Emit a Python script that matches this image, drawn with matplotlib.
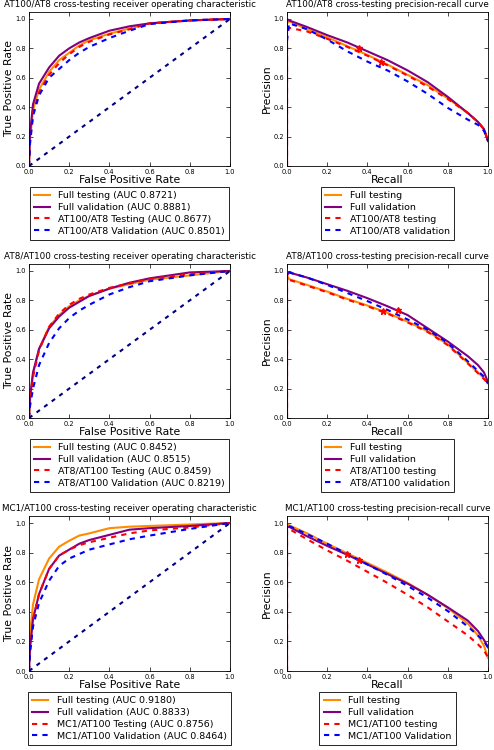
import matplotlib
matplotlib.use("Agg")
import matplotlib.pyplot as plt

# Figure size in pixels
W, H = 494, 750

# Experiment names (one row each)
NAMES = ["AT100/AT8", "AT8/AT100", "MC1/AT100"]

# ROC AUC values: full testing, full validation, cross testing, cross validation
AUC_ROW1 = [0.8721, 0.8881, 0.8677, 0.8501]
AUC_ROW2 = [0.8452, 0.8515, 0.8459, 0.8219]
AUC_ROW3 = [0.9180, 0.8833, 0.8756, 0.8464]

# Shared false positive rate grid
ROC_FPR = [0, 0.005, 0.02, 0.05, 0.1, 0.15, 0.2, 0.25, 0.3, 0.4, 0.5, 0.6, 0.8, 1.0]

ROC1_FULL_TEST = [0, 0.18, 0.38, 0.52, 0.64, 0.72, 0.77, 0.82, 0.855, 0.90, 0.935, 0.97, 0.99, 1.0]
ROC1_FULL_VAL = [0, 0.22, 0.42, 0.56, 0.67, 0.75, 0.80, 0.84, 0.87, 0.92, 0.95, 0.97, 0.99, 1.0]
ROC1_CROSS_TEST = [0, 0.17, 0.36, 0.50, 0.62, 0.70, 0.76, 0.81, 0.845, 0.895, 0.93, 0.97, 0.99, 1.0]
ROC1_CROSS_VAL = [0, 0.15, 0.34, 0.48, 0.60, 0.66, 0.72, 0.77, 0.81, 0.87, 0.92, 0.965, 0.99, 1.0]

ROC2_FULL_TEST = [0, 0.12, 0.30, 0.47, 0.62, 0.70, 0.76, 0.80, 0.83, 0.88, 0.91, 0.94, 0.97, 1.0]
ROC2_FULL_VAL = [0, 0.14, 0.31, 0.47, 0.61, 0.69, 0.75, 0.79, 0.83, 0.88, 0.92, 0.95, 0.99, 1.0]
ROC2_CROSS_TEST = [0, 0.10, 0.28, 0.46, 0.62, 0.71, 0.77, 0.81, 0.84, 0.885, 0.915, 0.945, 0.98, 1.0]
ROC2_CROSS_VAL = [0, 0.08, 0.20, 0.36, 0.51, 0.61, 0.68, 0.73, 0.77, 0.84, 0.89, 0.93, 0.97, 1.0]

ROC3_FULL_TEST = [0, 0.25, 0.45, 0.62, 0.76, 0.84, 0.88, 0.915, 0.93, 0.965, 0.975, 0.98, 0.99, 1.0]
ROC3_FULL_VAL = [0, 0.15, 0.35, 0.52, 0.69, 0.78, 0.82, 0.86, 0.885, 0.92, 0.955, 0.965, 0.98, 1.0]
ROC3_CROSS_TEST = [0, 0.15, 0.35, 0.52, 0.69, 0.78, 0.82, 0.85, 0.87, 0.90, 0.93, 0.95, 0.97, 1.0]
ROC3_CROSS_VAL = [0, 0.12, 0.30, 0.46, 0.61, 0.71, 0.76, 0.79, 0.82, 0.855, 0.89, 0.915, 0.96, 1.0]

# Shared recall grid for the precision-recall curves
PR_RECALL = [0, 0, 0.01, 0.1, 0.2, 0.3, 0.4, 0.5, 0.6, 0.7, 0.8, 0.9, 0.95, 0.98, 1.0]

PR1_FULL_TEST = [0, 0.97, 0.985, 0.93, 0.875, 0.815, 0.755, 0.69, 0.62, 0.55, 0.46, 0.36, 0.30, 0.25, 0.17]
PR1_FULL_VAL = [0, 1.0, 0.99, 0.945, 0.89, 0.84, 0.78, 0.72, 0.65, 0.57, 0.47, 0.36, 0.30, 0.25, 0.17]
PR1_CROSS_TEST = [0, 0.90, 0.94, 0.915, 0.865, 0.81, 0.75, 0.685, 0.615, 0.54, 0.455, 0.36, 0.30, 0.25, 0.17]
PR1_CROSS_VAL = [0, 0.85, 0.97, 0.93, 0.86, 0.78, 0.71, 0.65, 0.575, 0.49, 0.395, 0.315, 0.28, 0.24, 0.17]

PR2_FULL_TEST = [0, 0.97, 0.945, 0.905, 0.86, 0.81, 0.765, 0.715, 0.655, 0.59, 0.50, 0.375, 0.31, 0.27, 0.235]
PR2_FULL_VAL = [0, 0.97, 0.99, 0.955, 0.91, 0.865, 0.815, 0.76, 0.70, 0.61, 0.52, 0.42, 0.36, 0.31, 0.245]
PR2_CROSS_TEST = [0, 0.96, 0.94, 0.90, 0.855, 0.805, 0.76, 0.71, 0.65, 0.585, 0.495, 0.37, 0.305, 0.265, 0.235]
PR2_CROSS_VAL = [0, 0.97, 0.99, 0.955, 0.905, 0.85, 0.795, 0.735, 0.67, 0.60, 0.51, 0.385, 0.32, 0.28, 0.235]

PR3_FULL_TEST = [0, 0.99, 0.985, 0.93, 0.86, 0.795, 0.73, 0.665, 0.595, 0.515, 0.425, 0.32, 0.24, 0.17, 0.09]
PR3_FULL_VAL = [0, 0.97, 0.975, 0.91, 0.845, 0.785, 0.72, 0.655, 0.59, 0.515, 0.43, 0.34, 0.27, 0.21, 0.16]
PR3_CROSS_TEST = [0, 0.95, 0.96, 0.89, 0.815, 0.745, 0.67, 0.595, 0.515, 0.43, 0.335, 0.24, 0.18, 0.14, 0.09]
PR3_CROSS_VAL = [0, 0.96, 0.98, 0.925, 0.86, 0.79, 0.72, 0.65, 0.575, 0.495, 0.405, 0.30, 0.24, 0.20, 0.16]

# Operating points marked with red stars (recall, precision)
STAR1_RECALL = [0.36, 0.47]
STAR1_PREC = [0.80, 0.71]
STAR2_RECALL = [0.55, 0.48]
STAR2_PREC = [0.735, 0.725]
STAR3_RECALL = [0.30, 0.36]
STAR3_PREC = [0.79, 0.75]

PR_VAL_WORD = ["validation", "validation", "Validation"]

ROWS = [
    (AUC_ROW1, [ROC1_FULL_TEST, ROC1_FULL_VAL, ROC1_CROSS_TEST, ROC1_CROSS_VAL],
     [PR1_FULL_TEST, PR1_FULL_VAL, PR1_CROSS_TEST, PR1_CROSS_VAL], STAR1_RECALL, STAR1_PREC),
    (AUC_ROW2, [ROC2_FULL_TEST, ROC2_FULL_VAL, ROC2_CROSS_TEST, ROC2_CROSS_VAL],
     [PR2_FULL_TEST, PR2_FULL_VAL, PR2_CROSS_TEST, PR2_CROSS_VAL], STAR2_RECALL, STAR2_PREC),
    (AUC_ROW3, [ROC3_FULL_TEST, ROC3_FULL_VAL, ROC3_CROSS_TEST, ROC3_CROSS_VAL],
     [PR3_FULL_TEST, PR3_FULL_VAL, PR3_CROSS_TEST, PR3_CROSS_VAL], STAR3_RECALL, STAR3_PREC),
]

# Line styles: orange, purple solid; red, blue dashed
STYLES = [
    dict(color="darkorange", lw=1.5, ls="-"),
    dict(color="purple", lw=1.5, ls="-"),
    dict(color="red", lw=1.5, ls=(0, (2.5, 2.5))),
    dict(color="blue", lw=1.5, ls=(0, (2.5, 2.5))),
]

# axes boxes in pixels: (left, right) and (top, bottom)
ROC_X = (29, 230)
PR_X = (287, 488)
ROW_Y = [(11.6, 166), (263.6, 418), (515.6, 671)]


def px_axes(fig, x0, x1, top, bottom):
    return fig.add_axes([x0 / W, 1 - bottom / H, (x1 - x0) / W, (bottom - top) / H])


def style_axes(ax, xlabel, ylabel, title):
    ax.set_xlim(0, 1)
    ax.set_ylim(0, 1.05)
    ax.set_xticks([0, 0.2, 0.4, 0.6, 0.8, 1.0])
    ax.set_yticks([0, 0.2, 0.4, 0.6, 0.8, 1.0])
    ax.tick_params(direction="in", top=True, right=True, labelsize=4.8,
                   length=3, width=0.5, pad=2)
    for sp in ax.spines.values():
        sp.set_linewidth(0.6)
    ax.set_xlabel(xlabel, fontsize=7.8, labelpad=0)
    ax.set_ylabel(ylabel, fontsize=7.8, labelpad=1)
    ax.set_title(title, fontsize=6.35, pad=3)


def add_legend(ax):
    leg = ax.legend(loc="upper center", bbox_to_anchor=(0.5, -0.135), fontsize=6.8,
                    fancybox=False, edgecolor="black", framealpha=1,
                    handlelength=1.7, handletextpad=0.9, borderpad=0.45,
                    labelspacing=0.3, borderaxespad=0)
    leg.get_frame().set_linewidth(0.6)


fig = plt.figure(figsize=(W / 100, H / 100), dpi=100)

for i, (aucs, roc_curves, pr_curves, star_r, star_p) in enumerate(ROWS):
    name = NAMES[i]
    top, bottom = ROW_Y[i]

    ax = px_axes(fig, ROC_X[0], ROC_X[1], top, bottom)
    roc_labels = ["Full testing (AUC %.4f)" % aucs[0],
                  "Full validation (AUC %.4f)" % aucs[1],
                  "%s Testing (AUC %.4f)" % (name, aucs[2]),
                  "%s Validation (AUC %.4f)" % (name, aucs[3])]
    for tpr, st, lab in zip(roc_curves, STYLES, roc_labels):
        ax.plot(ROC_FPR, tpr, label=lab, **st)
    ax.plot([0, 1], [0, 1], color="navy", lw=1.5, ls=(0, (2, 2.5)))
    style_axes(ax, "False Positive Rate", "True Positive Rate",
               "%s cross-testing receiver operating characteristic" % name)
    add_legend(ax)

    ax = px_axes(fig, PR_X[0], PR_X[1], top, bottom)
    pr_labels = ["Full testing", "Full validation",
                 "%s testing" % name, "%s %s" % (name, PR_VAL_WORD[i])]
    for prec, st, lab in zip(pr_curves, STYLES, pr_labels):
        ax.plot(PR_RECALL, prec, label=lab, **st)
    ax.plot(star_r, star_p, "r*", ms=5, mec="red")
    style_axes(ax, "Recall", "Precision",
               "%s cross-testing precision-recall curve" % name)
    add_legend(ax)

fig.savefig("out.png", dpi=100)
